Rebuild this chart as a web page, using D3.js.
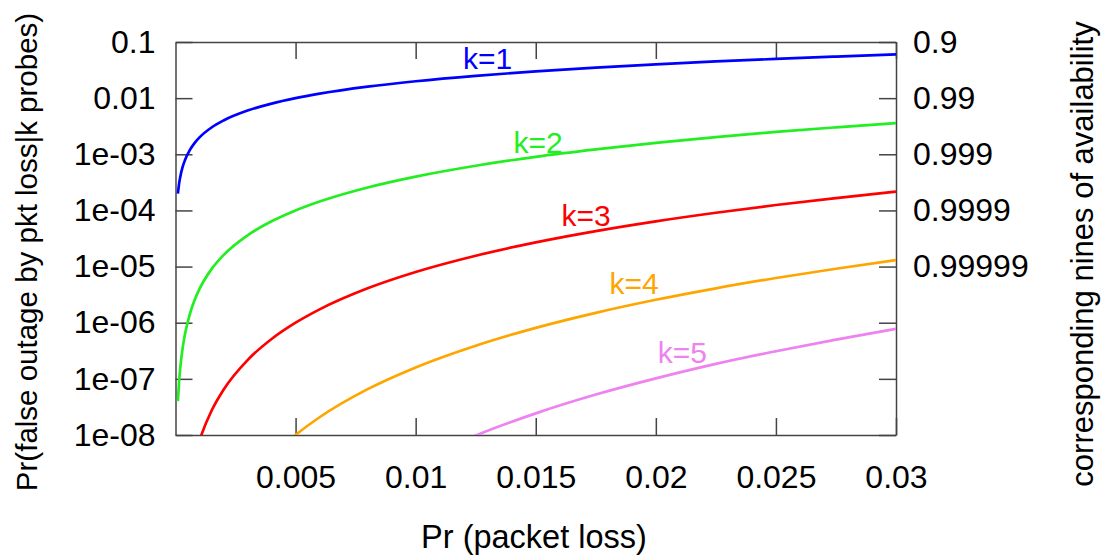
<!DOCTYPE html>
<html>
<head>
<meta charset="utf-8">
<script src="https://cdn.jsdelivr.net/npm/d3@7/dist/d3.min.js"></script>
<style>
    html, body { margin: 0; padding: 0; background: #fff; }
    svg { display: block; font-family: "Liberation Sans", Arial, Helvetica, sans-serif; }
    .axis path, .axis line { stroke: #444; stroke-width: 1.5px; }
    .axis text { fill: #000; font-size: 32px; }
</style>
</head>
<body>
<div id="chart"></div>
<script>
// packet loss probability (x), shared by every series
const pLoss = [0.0001, 0.00015, 0.0002, 0.0003, 0.0004, 0.0006, 0.0008, 0.001, 0.0015, 0.002,
               0.003, 0.004, 0.005, 0.006, 0.008, 0.01, 0.0125, 0.015, 0.0175, 0.02,
               0.0225, 0.025, 0.0275, 0.03];

// Pr(false outage); null = not drawn there
const k1 = [2e-4, 3e-4, 4e-4, 6e-4, 8e-4, 1.2e-3, 1.6e-3, 2e-3, 3e-3, 4e-3,
            6e-3, 8e-3, 0.01, 0.012, 0.016, 0.02, 0.025, 0.03, 0.035, 0.04,
            0.045, 0.05, 0.055, 0.06];
const k2 = [4e-8, 9e-8, 1.6e-7, 3.6e-7, 6.4e-7, 1.44e-6, 2.56e-6, 4e-6, 9e-6, 1.6e-5,
            3.6e-5, 6.4e-5, 1e-4, 1.44e-4, 2.56e-4, 4e-4, 6.25e-4, 9e-4, 1.22e-3, 1.6e-3,
            2.02e-3, 2.5e-3, 3.02e-3, 3.6e-3];
const k3 = [null, null, null, null, null, null, 4.1e-9, 8e-9, 2.7e-8, 6.4e-8,
            2.16e-7, 5.12e-7, 1e-6, 1.73e-6, 4.1e-6, 8e-6, 1.56e-5, 2.7e-5, 4.29e-5, 6.4e-5,
            9.1e-5, 1.25e-4, 1.66e-4, 2.16e-4];
const k4 = [null, null, null, null, null, null, null, null, null, null,
            null, 4.1e-9, 1e-8, 2.07e-8, 6.55e-8, 1.6e-7, 3.9e-7, 8.1e-7, 1.5e-6, 2.56e-6,
            4.1e-6, 6.25e-6, 9.15e-6, 1.3e-5];
const k5 = [null, null, null, null, null, null, null, null, null, null,
            null, null, null, null, null, 3.2e-9, 9.8e-9, 2.43e-8, 5.25e-8, 1.02e-7,
            1.85e-7, 3.1e-7, 5.0e-7, 7.8e-7];

const seriesNames = ["k=1", "k=2", "k=3", "k=4", "k=5"];
const seriesValues = [k1, k2, k3, k4, k5];
const seriesColors = ["#0000ff", "#22ee22", "#ff0000", "#ffa500", "#ee82ee"];

// where each curve label sits (data coordinates)
const labelP = [0.013, 0.0151, 0.0171, 0.0191, 0.0211];
const labelV = [0.05, 1.62e-3, 8.1e-5, 5e-6, 3.0e-7];

// ticks
const xTicks = [0.005, 0.01, 0.015, 0.02, 0.025, 0.03];
const yTicks = [1e-1, 1e-2, 1e-3, 1e-4, 1e-5, 1e-6, 1e-7, 1e-8];
const yTickLabels = ["0.1", "0.01", "1e-03", "1e-04", "1e-05", "1e-06", "1e-07", "1e-08"];
const ninesLabels = ["0.9", "0.99", "0.999", "0.9999", "0.99999", "", "", ""];

const W = 1107, H = 556;
const margin = { top: 42, right: 211, bottom: 121, left: 175.5 };
const width = W - margin.left - margin.right;
const height = H - margin.top - margin.bottom;

const svg = d3.select("#chart").append("svg")
    .attr("width", W)
    .attr("height", H);

const g = svg.append("g")
    .attr("transform", `translate(${margin.left},${margin.top})`);

const x = d3.scaleLinear().domain([0, 0.03]).range([0, width]);
const y = d3.scaleLog().domain([1e-8, 0.1]).range([height, 0]);

g.append("clipPath").attr("id", "plot-clip")
    .append("rect").attr("width", width).attr("height", height);

// Axes, ticks pointing inward like gnuplot
const tick = 17;
g.append("g").attr("class", "axis")
    .attr("transform", `translate(0,${height})`)
    .call(d3.axisBottom(x).tickValues(xTicks).tickSize(-tick).tickSizeOuter(0).tickPadding(30)
        .tickFormat(d3.format("~g")));

g.append("g").attr("class", "axis")
    .call(d3.axisTop(x).tickValues(xTicks).tickSize(-tick).tickSizeOuter(0).tickFormat(""));

g.append("g").attr("class", "axis")
    .call(d3.axisLeft(y).tickValues(yTicks).tickSize(-tick).tickSizeOuter(0).tickPadding(20)
        .tickFormat((d, i) => yTickLabels[i]));

g.append("g").attr("class", "axis")
    .attr("transform", `translate(${width},0)`)
    .call(d3.axisRight(y).tickValues(yTicks).tickSize(-tick).tickSizeOuter(0).tickPadding(17)
        .tickFormat((d, i) => ninesLabels[i]));

g.selectAll(".axis .domain").attr("stroke", "#444");

// Curves
const line = d3.line()
    .defined((d) => d[1] != null)
    .x((d) => x(d[0]))
    .y((d) => y(d[1]))
    .curve(d3.curveMonotoneX);

const curves = g.append("g").attr("clip-path", "url(#plot-clip)");
seriesValues.forEach((vals, i) => {
    curves.append("path")
        .datum(pLoss.map((p, j) => [p, vals[j]]))
        .attr("d", line)
        .attr("fill", "none")
        .attr("stroke", seriesColors[i])
        .attr("stroke-width", 2.7);
});

// Curve labels
seriesNames.forEach((name, i) => {
    g.append("text")
        .attr("x", x(labelP[i]))
        .attr("y", y(labelV[i]))
        .attr("dy", "0.35em")
        .attr("text-anchor", "middle")
        .style("font-size", "30px")
        .style("fill", seriesColors[i])
        .text(name);
});

// Axis titles
svg.append("text")
    .attr("x", 534)
    .attr("y", 548)
    .attr("text-anchor", "middle")
    .style("font-size", "32.5px")
    .text("Pr (packet loss)");

svg.append("text")
    .attr("transform", "translate(37,252) rotate(-90)")
    .attr("text-anchor", "middle")
    .style("font-size", "29.5px")
    .text("Pr(false outage by pkt loss|k probes)");

svg.append("text")
    .attr("transform", "translate(1093,254) rotate(-90)")
    .attr("text-anchor", "middle")
    .style("font-size", "31px")
    .text("corresponding nines of availability");
</script>
</body>
</html>
